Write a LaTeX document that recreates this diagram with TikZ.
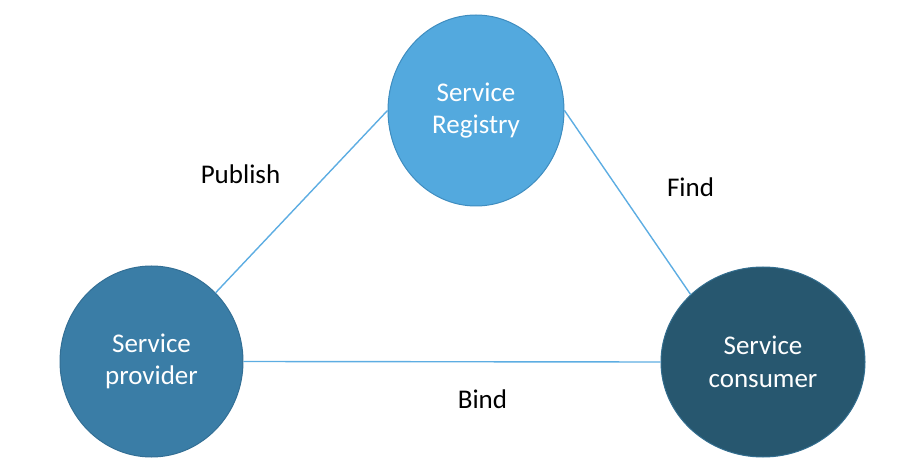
\documentclass[tikz,border=0pt]{standalone}
\usepackage{fontspec}
\setmainfont{Carlito}
\usetikzlibrary{shapes.geometric}
\definecolor{regfill}{HTML}{53A9DE}
\definecolor{regdraw}{HTML}{3F8DC0}
\definecolor{provfill}{HTML}{3A7DA6}
\definecolor{provdraw}{HTML}{336F95}
\definecolor{consfill}{HTML}{27576F}
\definecolor{consdraw}{HTML}{326D8E}
\definecolor{linkcol}{HTML}{5DADE2}
\tikzset{
  svc/.style={ellipse, inner sep=0pt, line width=1pt, text=white,
    font=\fontsize{27}{32.5}\selectfont, align=center},
  link/.style={draw=linkcol, line width=1.4pt},
  lbl/.style={font=\fontsize{27}{32}\selectfont, text=black, inner sep=0pt, anchor=base}
}
\begin{document}
\begin{tikzpicture}[x=1pt,y=-1pt]
\useasboundingbox (0,0) rectangle (908,470);
\node[svc, fill=regfill, draw=regdraw, minimum width=176pt, minimum height=191pt] (reg) at (476,110.5) {Service\\Registry};
\node[svc, fill=provfill, draw=provdraw, minimum width=183pt, minimum height=191pt] (prov) at (151.5,361.5) {Service\\provider};
\node[svc, fill=consfill, draw=consdraw, minimum width=204pt, minimum height=190pt] (cons) at (763,362) {Service\\consumer};
\draw[link] (prov.47) -- (reg.west);
\draw[link] (reg.east) -- (cons.137);
\draw[link] (prov.east) -- (cons.west);
\node[lbl] (pub) at (240.5,183.5) {Publish};
\node[lbl] (find) at (690.5,197) {Find};
\node[lbl] (bind) at (482.5,408) {Bind};
\end{tikzpicture}
\end{document}
